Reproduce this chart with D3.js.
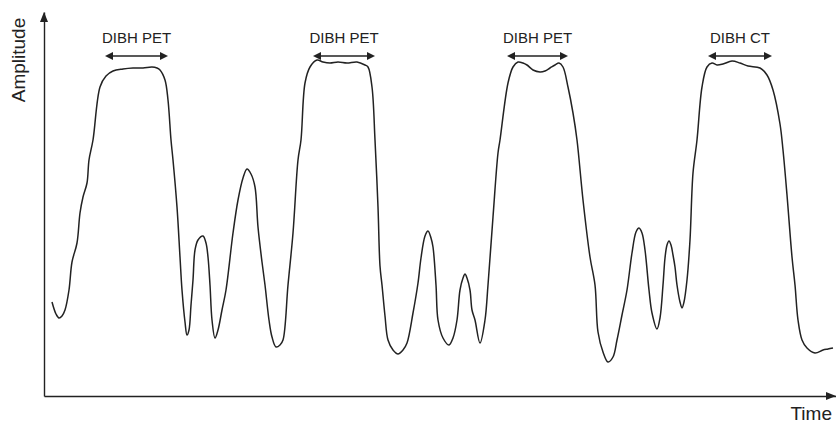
<!DOCTYPE html>
<html>
<head>
<meta charset="utf-8">
<script src="https://cdn.jsdelivr.net/npm/d3@7"></script>
<style>
  body { margin: 0; background: #fff; }
  svg { display: block; font-family: "Liberation Sans", Arial, Helvetica, sans-serif; }
</style>
</head>
<body>
<svg id="chart" width="836" height="425"></svg>
<script>
// breathing trace (time / amplitude in arbitrary units)
const time = [
  8, 12, 15, 18, 21, 25, 28, 33, 36, 39, 43, 45, 49, 56, 62, 69, 79, 89, 99, 108, 113, 116, 121, 124, 127,
  129, 133, 136, 138, 141, 143, 145, 147, 149, 151, 154, 159, 162, 164, 166, 168, 171, 174, 178, 182,
  189, 194, 199, 203, 207, 211, 214, 218, 221, 225, 228, 232, 236, 239, 244,
  249, 254, 257, 261, 266, 273, 279, 286, 294, 303, 313, 321, 324, 328, 331, 334, 336,
  338, 341, 344, 349, 354, 359, 363, 369, 374, 377, 381, 384, 387, 389, 392, 394, 399, 405, 409, 413,
  416, 419, 421, 423, 426, 428, 431, 436, 441, 444, 449, 454, 456,
  464, 469, 474, 479, 483, 489, 496, 501, 506, 511, 515, 519, 524, 529, 533,
  539, 546, 551, 554, 559, 564, 569, 573, 578, 583, 588, 592, 595, 598, 601, 605, 608, 613, 616, 619,
  621, 623, 625, 627, 629, 631, 633, 636, 638, 640, 643, 646, 649,
  653, 658, 663, 668, 673, 679, 688, 696, 704, 716, 723, 729, 736, 739, 743, 748, 751, 754, 758, 763,
  771, 779, 784, 789
];
const amplitude = [
  94, 82, 78, 80, 86, 106, 134, 153, 183, 199, 213, 236, 256, 309, 320, 325, 327, 328, 328, 329, 328, 326, 316, 296, 256,
  236, 189, 139, 106, 74, 61, 66, 91, 116, 146, 156, 160, 153, 139, 111, 76, 58, 66, 86, 106,
  163, 196, 218, 227, 222, 209, 169, 134, 111, 76, 59, 49, 51, 56, 111,
  163, 236, 256, 313, 329, 336, 334, 333, 334, 333, 334, 331, 329, 309, 256, 189, 130,
  111, 80, 56, 46, 42, 46, 53, 83, 113, 138, 160, 165, 158, 149, 111, 76, 58, 51, 58, 76,
  106, 118, 122, 118, 106, 86, 76, 53, 76, 111, 179, 243, 256,
  313, 329, 334, 333, 331, 326, 324, 325, 328, 331, 333, 329, 309, 283, 256,
  196, 139, 111, 64, 44, 34, 39, 56, 81, 106, 143, 164, 168, 163, 146, 106, 83, 67, 78, 111,
  138, 151, 155, 151, 141, 129, 111, 94, 88, 94, 116, 156, 223,
  256, 309, 329, 333, 331, 332, 335, 333, 330, 328, 321, 306, 272, 246, 201, 139, 111, 76, 56, 48,
  43, 46, 47, 48
];

// breath-hold windows
const holdLabels = ["DIBH PET", "DIBH PET", "DIBH PET", "DIBH CT"];
const holdStart = [61, 269, 463, 664];
const holdEnd = [124, 331, 524, 728];
const holdLevel = 340;

const data = time.map((t, i) => ({ t: t, a: amplitude[i] }));

const svg = d3.select("#chart");
const ink = "#222";

// Set up the scales
const xScale = d3.scaleLinear().domain([0, 792]).range([44, 836]);
const yScale = d3.scaleLinear().domain([0, 384]).range([396, 12]);

// axis lines without ticks
svg.append("g")
  .attr("transform", `translate(0, ${yScale(0)})`)
  .call(d3.axisBottom(xScale).tickValues([]).tickSizeOuter(0))
  .call(g => g.select(".domain").attr("stroke", ink).attr("stroke-width", 1.4));

svg.append("g")
  .attr("transform", `translate(${xScale(0)}, 0)`)
  .call(d3.axisLeft(yScale).tickValues([]).tickSizeOuter(0))
  .call(g => g.select(".domain").attr("stroke", ink).attr("stroke-width", 1.4));

// axis arrow heads
const x0 = xScale(0), y0 = yScale(0);
const yTop = yScale(384), xEnd = xScale(792);
svg.append("path")
  .attr("d", `M${x0},${yTop} L${x0 - 4},${yTop + 10} L${x0 + 4},${yTop + 10} Z`)
  .attr("fill", ink);
svg.append("path")
  .attr("d", `M${xEnd},${y0} L${xEnd - 10},${y0 - 4} L${xEnd - 10},${y0 + 4} Z`)
  .attr("fill", ink);

// axis titles
svg.append("text")
  .attr("transform", `translate(${x0 - 19}, 60) rotate(-90)`)
  .attr("text-anchor", "middle")
  .attr("font-size", "19px")
  .attr("fill", ink)
  .text("Amplitude");

svg.append("text")
  .attr("x", 832)
  .attr("y", 420)
  .attr("text-anchor", "end")
  .attr("font-size", "19px")
  .attr("fill", ink)
  .text("Time");

// the trace
const line = d3.line()
  .x(d => xScale(d.t))
  .y(d => yScale(d.a))
  .curve(d3.curveCatmullRom.alpha(0.5));

svg.append("path")
  .datum(data)
  .attr("d", line)
  .attr("fill", "none")
  .attr("stroke", ink)
  .attr("stroke-width", 1.5)
  .attr("stroke-linejoin", "round");

// hold arrows and labels
const holds = svg.selectAll(".hold")
  .data(holdLabels)
  .enter()
  .append("g")
  .attr("class", "hold");

holds.append("line")
  .attr("x1", (d, i) => xScale(holdStart[i]) + 6)
  .attr("x2", (d, i) => xScale(holdEnd[i]) - 6)
  .attr("y1", yScale(holdLevel))
  .attr("y2", yScale(holdLevel))
  .attr("stroke", ink)
  .attr("stroke-width", 1.5);

holds.append("path")
  .attr("d", (d, i) => {
    const a = xScale(holdStart[i]), b = xScale(holdEnd[i]), y = yScale(holdLevel);
    return `M${a},${y} L${a + 8},${y - 4} L${a + 8},${y + 4} Z` +
           `M${b},${y} L${b - 8},${y - 4} L${b - 8},${y + 4} Z`;
  })
  .attr("fill", ink);

holds.append("text")
  .attr("x", (d, i) => (xScale(holdStart[i]) + xScale(holdEnd[i])) / 2)
  .attr("y", 43)
  .attr("text-anchor", "middle")
  .attr("font-size", "15px")
  .attr("fill", ink)
  .text(d => d);
</script>
</body>
</html>
